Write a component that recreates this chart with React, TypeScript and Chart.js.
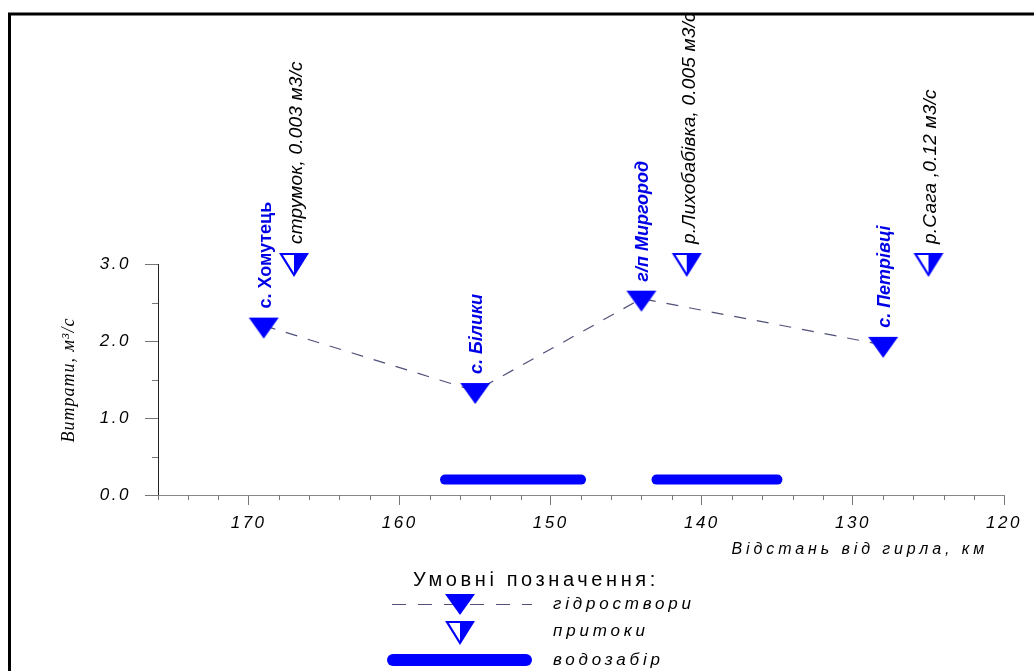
import React, { useEffect, useRef } from 'react';
import { Chart, registerables } from 'chart.js';

Chart.register(...registerables);

// ---- data ----
const stationNames = ['с. Хомутець', 'с. Білики', 'г/п Миргород', 'с. Петрівці'];
const stationKm = [169, 155, 144, 128];
const stationFlow = [2.2, 1.35, 2.55, 1.95];

const tributaryNames = ['струмок, 0.003 м3/с', 'р.Лихобабівка, 0.005 м3/с', 'р.Сага ,0.12 м3/с'];
const tributaryKm = [167, 141, 125];
const tributaryMark = [3.0, 3.0, 3.0];

const intakeFromKm = [157, 143];
const intakeToKm = [148, 135];
const intakeLevel = [0.2, 0.2];

const xTicks = [120, 122, 124, 126, 128, 130, 132, 134, 136, 138, 140, 142, 144, 146, 148, 150,
  152, 154, 156, 158, 160, 162, 164, 166, 168, 170, 172, 174, 176];
const yTicks = [0, 0.5, 1, 1.5, 2, 2.5, 3];

const xTitle = 'Відстань від гирла, км';
const yTitle = 'Витрати, м³/с';
const legendTitle = 'Умовні позначення:';
const legendLabels = ['гідроствори', 'притоки', 'водозабір'];

// ---- styles ----
const BLUE = '#0000ff';
const LABEL_BLUE = '#0000e6';
const DASH_COLOR = '#50507a';
const SANS = '"Liberation Sans", Arial, sans-serif';

function makeStationMarker(): HTMLCanvasElement {
  const c = document.createElement('canvas');
  c.width = 32; c.height = 32;
  const g = c.getContext('2d')!;
  g.fillStyle = BLUE;
  g.beginPath();
  g.moveTo(1, 8); g.lineTo(31, 8); g.lineTo(16, 29); g.closePath();
  g.fill();
  return c;
}

function makeTribMarker(): HTMLCanvasElement {
  const c = document.createElement('canvas');
  c.width = 32; c.height = 32;
  const g = c.getContext('2d')!;
  g.fillStyle = '#fff';
  g.beginPath(); g.moveTo(3, 6); g.lineTo(29, 6); g.lineTo(16, 27); g.closePath(); g.fill();
  g.fillStyle = BLUE;
  g.beginPath(); g.moveTo(16, 6); g.lineTo(29, 6); g.lineTo(16, 27); g.closePath(); g.fill();
  g.strokeStyle = BLUE; g.lineWidth = 2.2; g.lineJoin = 'miter';
  g.beginPath(); g.moveTo(3, 6); g.lineTo(29, 6); g.lineTo(16, 27); g.closePath(); g.stroke();
  return c;
}

function drawText(ctx: CanvasRenderingContext2D, text: string, x: number, y: number, font: string,
  color: string, ls: number, align: CanvasTextAlign, baseline: CanvasTextBaseline, rotate: boolean) {
  ctx.save();
  ctx.translate(x, y);
  if (rotate) ctx.rotate(-Math.PI / 2);
  ctx.font = font;
  ctx.fillStyle = color;
  (ctx as any).letterSpacing = ls + 'px';
  ctx.textAlign = align;
  ctx.textBaseline = baseline;
  ctx.fillText(text, 0, 0);
  ctx.restore();
}

export default function App() {
  const ref = useRef<HTMLCanvasElement>(null);

  useEffect(() => {
    const canvas = ref.current!;
    const stationImg = makeStationMarker();
    const tribImg = makeTribMarker();

    const decor = {
      id: 'decor',
      beforeDraw(chart: any) {
        const ctx = chart.ctx as CanvasRenderingContext2D;
        ctx.save();
        ctx.fillStyle = '#fff';
        ctx.fillRect(0, 0, chart.width, chart.height);
        ctx.restore();
        (ctx as any).letterSpacing = '2.5px';
      },
      afterDraw(chart: any) {
        const ctx = chart.ctx as CanvasRenderingContext2D;
        (ctx as any).letterSpacing = '0px';
        const xs = chart.scales.x;
        const ys = chart.scales.y;
        const area = chart.chartArea;

        // minor ticks
        ctx.save();
        ctx.strokeStyle = '#777';
        ctx.lineWidth = 1;
        ctx.beginPath();
        xTicks.forEach((v) => {
          if (v % 10 !== 0) {
            const px = Math.round(xs.getPixelForValue(v)) + 0.5;
            ctx.moveTo(px, area.bottom);
            ctx.lineTo(px, area.bottom + 5);
          }
        });
        yTicks.forEach((v) => {
          if (!Number.isInteger(v)) {
            const py = Math.round(ys.getPixelForValue(v)) + 0.5;
            ctx.moveTo(area.left - 6, py);
            ctx.lineTo(area.left, py);
          }
        });
        ctx.stroke();
        ctx.restore();

        // station labels
        stationNames.forEach((name, i) => {
          const px = xs.getPixelForValue(stationKm[i]);
          const py = ys.getPixelForValue(stationFlow[i]);
          const font = (i === 0 ? 'bold ' : 'italic bold ') + '18px ' + SANS;
          drawText(ctx, name, px + 7, py - 17, font, LABEL_BLUE, 0, 'left', 'alphabetic', true);
        });

        // tributary labels
        tributaryNames.forEach((name, i) => {
          const px = xs.getPixelForValue(tributaryKm[i]);
          const py = ys.getPixelForValue(tributaryMark[i]);
          drawText(ctx, name, px + 8, py - 20, 'italic 19px ' + SANS, '#000', 0.2, 'left', 'alphabetic', true);
        });

        // axis titles
        drawText(ctx, xTitle, 988, 550, 'italic 16px ' + SANS, '#000', 3.9, 'right', 'middle', false);
        drawText(ctx, yTitle, 74, 380, 'italic 18px "Liberation Serif", "Times New Roman", serif', '#000', 1, 'center', 'alphabetic', true);

        // legend
        drawText(ctx, legendTitle, 536, 580, '20px ' + SANS, '#000', 3.6, 'center', 'middle', false);
        ctx.save();
        ctx.strokeStyle = DASH_COLOR;
        ctx.lineWidth = 1;
        ctx.setLineDash([14, 12]);
        ctx.beginPath();
        ctx.moveTo(392, 604.5);
        ctx.lineTo(532, 604.5);
        ctx.stroke();
        ctx.setLineDash([]);
        ctx.drawImage(stationImg, 460 - 16, 602 - 16);
        ctx.drawImage(tribImg, 460 - 16, 632 - 16);
        ctx.strokeStyle = BLUE;
        ctx.lineWidth = 12;
        ctx.lineCap = 'round';
        ctx.beginPath();
        ctx.moveTo(393, 660);
        ctx.lineTo(526, 660);
        ctx.stroke();
        ctx.restore();
        legendLabels.forEach((t, i) => {
          drawText(ctx, t, 553, [604, 631, 660][i], 'italic 17px ' + SANS, '#000', 3.8, 'left', 'middle', false);
        });

        // frame
        ctx.save();
        ctx.strokeStyle = '#000';
        ctx.lineWidth = 3;
        ctx.strokeRect(9.5, 14, 1200, 900);
        ctx.restore();
      },
    };

    const datasets: any[] = [
      {
        label: 'гідроствори',
        data: stationKm.map((x, i) => ({ x, y: stationFlow[i] })),
        borderColor: DASH_COLOR,
        borderWidth: 1.2,
        borderDash: [12, 11],
        pointStyle: stationImg,
        pointRadius: 10,
        clip: false,
        order: 1,
      },
      {
        label: 'притоки',
        data: tributaryKm.map((x, i) => ({ x, y: tributaryMark[i] })),
        showLine: false,
        pointStyle: tribImg,
        pointRadius: 10,
        clip: false,
        order: 0,
      },
      ...intakeFromKm.map((f, i) => ({
        label: 'водозабір',
        data: [{ x: f, y: intakeLevel[i] }, { x: intakeToKm[i], y: intakeLevel[i] }],
        borderColor: BLUE,
        borderWidth: 10,
        borderCapStyle: 'round',
        pointRadius: 0,
        clip: false,
        order: 2,
      })),
    ];

    const tickFont = { family: SANS, size: 17, style: 'italic', weight: 'normal' };

    const chart = new Chart(canvas, {
      type: 'line',
      data: { datasets },
      plugins: [decor],
      options: {
        animation: false,
        responsive: false,
        devicePixelRatio: 1,
        events: [],
        layout: { padding: { left: 0, top: 264, right: 30, bottom: 0 } },
        plugins: { legend: { display: false }, tooltip: { enabled: false }, title: { display: false } },
        scales: {
          x: {
            type: 'linear',
            reverse: true,
            min: 120,
            max: 176,
            afterBuildTicks: (s: any) => { s.ticks = xTicks.map((v) => ({ value: v })); },
            afterFit: (s: any) => { s.height = 176; },
            ticks: {
              autoSkip: false,
              maxRotation: 0,
              minRotation: 0,
              padding: 8,
              color: '#000',
              font: tickFont,
              callback: (v: any) => (v % 10 === 0 ? String(v) : ''),
            },
            grid: {
              drawOnChartArea: false,
              drawTicks: true,
              tickLength: 10,
              tickWidth: 1,
              tickColor: (c: any) => (c.tick && c.tick.value % 10 === 0 ? '#777' : 'rgba(0,0,0,0)'),
            },
            border: { color: '#888', width: 1 },
          },
          y: {
            type: 'linear',
            min: 0,
            max: 3,
            afterBuildTicks: (s: any) => { s.ticks = yTicks.map((v) => ({ value: v })); },
            afterFit: (s: any) => { s.width = 158; },
            ticks: {
              autoSkip: false,
              padding: 14,
              color: '#000',
              font: tickFont,
              callback: (v: any) => (Number.isInteger(v) ? Number(v).toFixed(1) : ''),
            },
            grid: {
              drawOnChartArea: false,
              drawTicks: true,
              tickLength: 13,
              tickWidth: 1,
              tickColor: (c: any) => (c.tick && Number.isInteger(c.tick.value) ? '#777' : 'rgba(0,0,0,0)'),
            },
            border: { color: '#222', width: 1 },
          },
        },
      } as any,
    });

    return () => chart.destroy();
  }, []);

  return (
    <div style={{ position: 'absolute', left: 0, top: 0, width: 1034, height: 671, background: '#fff' }}>
      <canvas ref={ref} width={1034} height={671} style={{ display: 'block' }} />
    </div>
  );
}
